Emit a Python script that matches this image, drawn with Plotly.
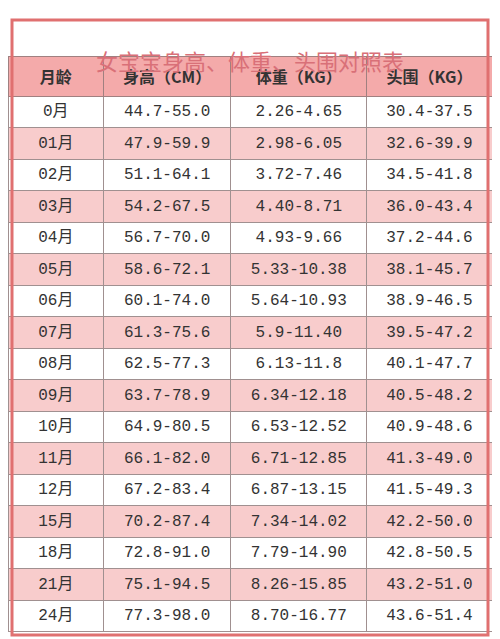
import plotly.graph_objects as go

title = "女宝宝身高、体重、头围对照表"
headers = ["月龄", "身高（CM）", "体重（KG）", "头围（KG）"]
months = ["0月", "01月", "02月", "03月", "04月", "05月", "06月", "07月", "08月",
          "09月", "10月", "11月", "12月", "15月", "18月", "21月", "24月"]
height = ["44.7-55.0", "47.9-59.9", "51.1-64.1", "54.2-67.5", "56.7-70.0", "58.6-72.1",
          "60.1-74.0", "61.3-75.6", "62.5-77.3", "63.7-78.9", "64.9-80.5", "66.1-82.0",
          "67.2-83.4", "70.2-87.4", "72.8-91.0", "75.1-94.5", "77.3-98.0"]
weight = ["2.26-4.65", "2.98-6.05", "3.72-7.46", "4.40-8.71", "4.93-9.66", "5.33-10.38",
          "5.64-10.93", "5.9-11.40", "6.13-11.8", "6.34-12.18", "6.53-12.52", "6.71-12.85",
          "6.87-13.15", "7.34-14.02", "7.79-14.90", "8.26-15.85", "8.70-16.77"]
head = ["30.4-37.5", "32.6-39.9", "34.5-41.8", "36.0-43.4", "37.2-44.6", "38.1-45.7",
        "38.9-46.5", "39.5-47.2", "40.1-47.7", "40.5-48.2", "40.9-48.6", "41.3-49.0",
        "41.5-49.3", "42.2-50.0", "42.8-50.5", "43.2-51.0", "43.6-51.4"]

fnt = "Liberation Mono, Noto Sans CJK SC"
row_colors = ["#ffffff" if i % 2 == 0 else "#f8cccc" for i in range(len(months))]

fig = go.Figure(go.Table(
    domain=dict(x=[0, 484/500], y=[0, 1-48/639]),
    columnwidth=[94, 125, 134, 123],
    header=dict(values=["<b>%s</b>" % h for h in headers], height=29,
                fill_color="#f4aaaa", line_color="#a08080",
                font=dict(family="Noto Sans CJK SC", size=16, color="#333333"),
                align="center"),
    cells=dict(values=[months, height, weight, head], height=31.5,
               fill_color=[row_colors]*4, line_color="#a09090",
               font=dict(family=fnt, size=16, color="#333333"),
               align="center"),
))
fig.add_annotation(text=title, x=242/500, y=1-34/639, xref="paper", yref="paper",
                   showarrow=False, font=dict(family="Noto Sans CJK SC", size=22, color="#d97078"))
fig.add_shape(type="rect", xref="paper", yref="paper", x0=4/500, x1=480/500,
              y0=1-627/639, y1=1-12/639, line=dict(color="#e07070", width=3))
fig.update_layout(width=500, height=639, margin=dict(l=0, r=0, t=0, b=0),
                  paper_bgcolor="white")
fig.write_html("out.html")
